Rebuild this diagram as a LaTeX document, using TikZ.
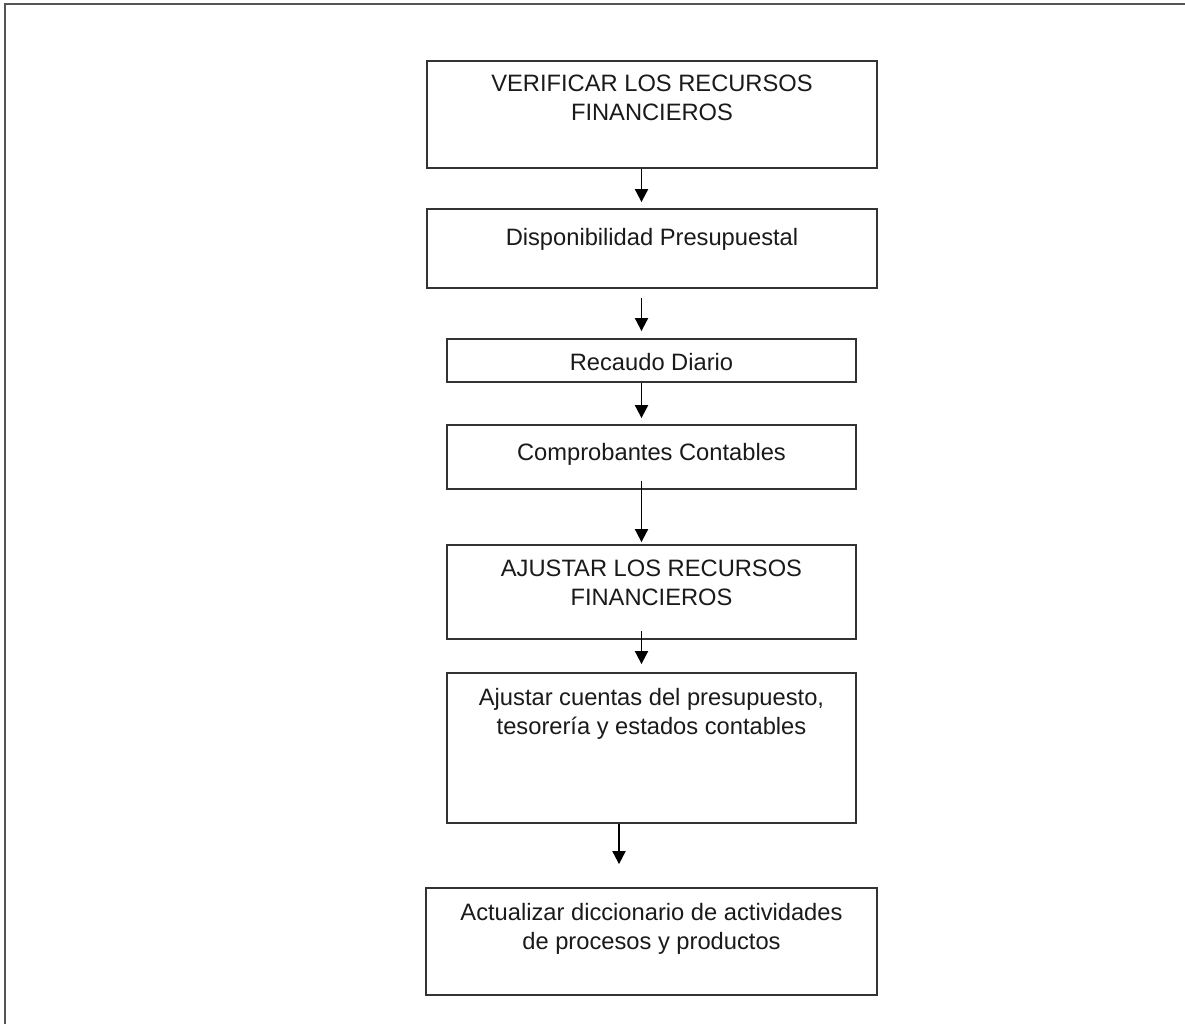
\documentclass[tikz,border=0pt]{standalone}
\usepackage{fontspec}
\setmainfont{Liberation Sans}
\usetikzlibrary{arrows.meta}
\definecolor{framegray}{HTML}{555555}
\definecolor{boxgray}{HTML}{333333}
\definecolor{txt}{HTML}{1A1A1A}
\tikzset{
  stepbox/.style={draw=boxgray, line width=1.8pt, rectangle, inner sep=0pt},
  steptext/.style={anchor=north, inner sep=0pt, align=center, text=txt,
    font=\fontsize{23.7}{28.3}\selectfont},
  arr/.style={draw=black, line width=1.9pt, -{Triangle[width=13pt,length=13pt]}}
}
\begin{document}
\begin{tikzpicture}[x=1pt,y=-1pt]
\useasboundingbox (0,0) rectangle (1185,1024);
\fill[white] (0,0) rectangle (1185,1024);
\draw[framegray, line width=2pt] (5,1024) -- (5,4.5) -- (1185,4.5);

\node[stepbox, minimum width=450pt, minimum height=107pt] (b1) at (652,114.5) {};
\node[stepbox, minimum width=450pt, minimum height=79pt] (b2) at (652,248.5) {};
\node[stepbox, minimum width=409pt, minimum height=43pt] (b3) at (651.5,360.5) {};
\node[stepbox, minimum width=409pt, minimum height=64pt] (b4) at (651.5,457) {};
\node[stepbox, minimum width=409pt, minimum height=94pt] (b5) at (651.5,592) {};
\node[stepbox, minimum width=409pt, minimum height=150pt] (b6) at (651.5,748) {};
\node[stepbox, minimum width=451pt, minimum height=107pt] (b7) at (651.5,941.5) {};

\node[steptext] (t1) at (652,75) {VERIFICAR LOS RECURSOS\\FINANCIEROS};
\node[steptext] (t2) at (652,228.5) {Disponibilidad Presupuestal};
\node[steptext] (t3) at (651.5,353) {Recaudo Diario};
\node[steptext] (t4) at (651.5,443.5) {Comprobantes Contables};
\node[steptext] (t5) at (651.5,560) {AJUSTAR LOS RECURSOS\\FINANCIEROS};
\node[steptext] (t6) at (651.5,688.5) {Ajustar cuentas del presupuesto,\\tesorería y estados contables};
\node[steptext] (t7) at (651.5,903.5) {Actualizar diccionario de actividades\\de procesos y productos};

\coordinate (ax) at (641.5,0);
\coordinate (bx) at (619,0);
\draw[arr, shorten >=6pt] (b1.south -| ax) -- (b2.north -| ax);
\draw[arr, shorten <=9pt, shorten >=7pt] (b2.south -| ax) -- (b3.north -| ax);
\draw[arr, shorten >=6pt] (b3.south -| ax) -- (b4.north -| ax);
\draw[arr, shorten <=-9pt, shorten >=2pt] (b4.south -| ax) -- (b5.north -| ax);
\draw[arr, shorten <=-9pt, shorten >=8pt] (b5.south -| ax) -- (b6.north -| ax);
\draw[arr, shorten >=23pt] (b6.south -| bx) -- (b7.north -| bx);
\end{tikzpicture}
\end{document}
